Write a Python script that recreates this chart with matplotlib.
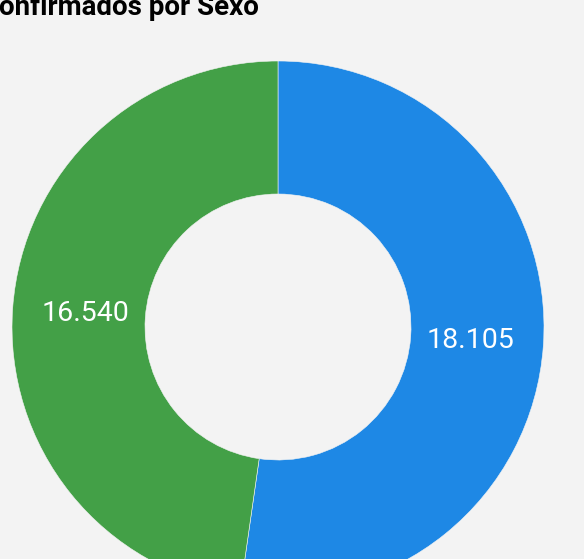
import matplotlib
matplotlib.use("Agg")
import matplotlib.pyplot as plt

# data
categories = ["Masculino", "Femenino"]
values = [18105, 16540]
colors = ["#1e88e5", "#43a047"]
title = "Casos Confirmados por Sexo"

plt.rcParams['font.family'] = ['Roboto', 'DejaVu Sans']

W, H = 584, 559
cx, cy, R = 278, 327, 266

fig = plt.figure(figsize=(W / 100, H / 100), dpi=100, facecolor="#f3f3f3")
ax = fig.add_axes([0, 0, 1, 1])
ax.set_facecolor("#f3f3f3")


def fmt(p):
    v = round(p * sum(values) / 100)
    return f"{v:,}".replace(",", ".")


wedges, texts, autotexts = ax.pie(
    values, colors=colors, startangle=90, counterclock=False, radius=1,
    wedgeprops=dict(width=0.5, edgecolor="#f3f3f3", linewidth=0.4),
    autopct=fmt, pctdistance=0.726,
    textprops=dict(color="white", fontsize=20.5))

ax.set_xlim(-cx / R, (W - cx) / R)
ax.set_ylim(-(H - cy) / R, cy / R)
ax.set_aspect("auto")
ax.axis("off")

fig.text(259 / W, 1 - 15 / H, title, ha="right", va="baseline",
         fontsize=20, fontweight="bold", color="black")

fig.savefig("out.png", dpi=100, facecolor=fig.get_facecolor())
